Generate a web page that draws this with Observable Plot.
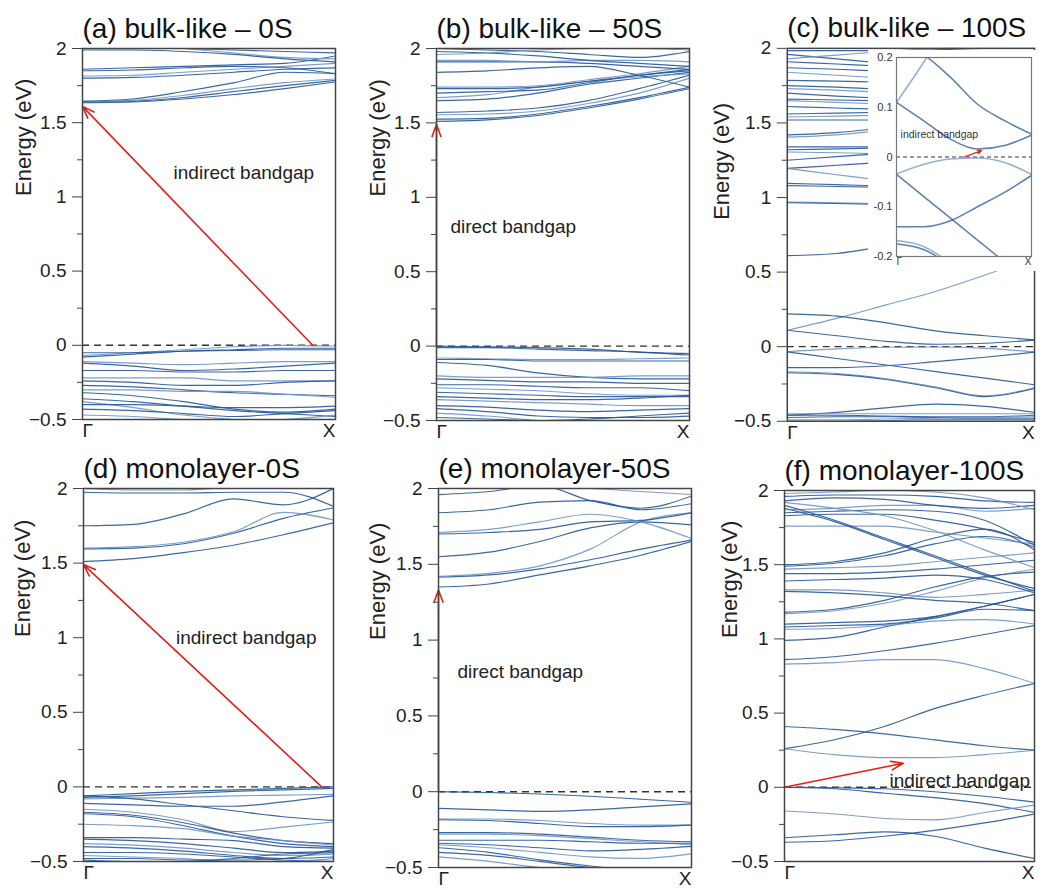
<!DOCTYPE html>
<html>
<head>
<meta charset="utf-8">
<script src="https://cdn.jsdelivr.net/npm/d3@7"></script>
<script src="https://cdn.jsdelivr.net/npm/@observablehq/plot@0.6"></script>
<style>
  html, body { margin: 0; padding: 0; background: #fff; }
  #root { position: relative; width: 1044px; height: 890px; overflow: hidden; background: #fff; }
  .panel { position: absolute; }
  .panel svg { overflow: visible; }
</style>
</head>
<body>
<div id="root"></div>
<script>
// ---------- data ----------
const kPoints = [0, 0.2, 0.4, 0.6, 0.8, 1];
const kLabels = ["Γ", "X"];
const energyTicks = [-0.5, 0, 0.5, 1, 1.5, 2];
const energyMinorTicks = [-0.25, 0.25, 0.75, 1.25, 1.75];
const insetTicks = [-0.2, -0.1, 0, 0.1, 0.2];
const yLabel = "Energy (eV)";

const titles = ["(a) bulk-like – 0S", "(b) bulk-like – 50S", "(c) bulk-like – 100S",
                "(d) monolayer-0S", "(e) monolayer-50S", "(f) monolayer-100S"];

const bandsA = [
  [1.635, 1.64, 1.66, 1.69, 1.73, 1.775],
  [1.64, 1.645, 1.67, 1.71, 1.75, 1.785],
  [1.64, 1.65, 1.685, 1.73, 1.77, 1.795],
  [1.645, 1.66, 1.71, 1.77, 1.84, 1.83],
  [1.80, 1.805, 1.82, 1.84, 1.86, 1.87],
  [1.815, 1.82, 1.84, 1.86, 1.88, 1.90],
  [1.85, 1.855, 1.87, 1.88, 1.87, 1.83],
  [1.86, 1.87, 1.88, 1.89, 1.90, 1.95],
  [2.05, 2.03, 2.0, 1.97, 1.94, 1.93],
  [1.99, 1.99, 1.98, 1.96, 1.93, 1.91],
  [2.02, 2.01, 2.0, 1.99, 1.98, 1.97],
  [-0.07, -0.05, -0.03, -0.01, 0.0, -0.005],
  [-0.08, -0.06, -0.04, -0.03, -0.02, -0.02],
  [-0.05, -0.05, -0.04, -0.035, -0.03, -0.03],
  [-0.11, -0.12, -0.13, -0.12, -0.11, -0.11],
  [-0.12, -0.14, -0.17, -0.16, -0.14, -0.12],
  [-0.17, -0.17, -0.18, -0.18, -0.17, -0.17],
  [-0.22, -0.22, -0.22, -0.24, -0.24, -0.24],
  [-0.24, -0.25, -0.27, -0.27, -0.25, -0.24],
  [-0.27, -0.28, -0.30, -0.32, -0.33, -0.34],
  [-0.30, -0.30, -0.31, -0.31, -0.33, -0.35],
  [-0.32, -0.34, -0.38, -0.43, -0.45, -0.43],
  [-0.36, -0.38, -0.41, -0.44, -0.46, -0.48],
  [-0.38, -0.42, -0.47, -0.50, -0.52, -0.52],
  [-0.40, -0.40, -0.41, -0.42, -0.42, -0.41],
  [-0.43, -0.44, -0.46, -0.48, -0.46, -0.44],
  [-0.47, -0.48, -0.50, -0.51, -0.50, -0.47]
];

const bandsB = [
  [1.51, 1.52, 1.55, 1.60, 1.66, 1.73],
  [1.525, 1.53, 1.56, 1.61, 1.67, 1.74],
  [1.555, 1.56, 1.58, 1.63, 1.70, 1.80],
  [1.57, 1.58, 1.60, 1.65, 1.73, 1.82],
  [1.65, 1.66, 1.70, 1.76, 1.80, 1.84],
  [1.67, 1.69, 1.74, 1.78, 1.81, 1.83],
  [1.70, 1.71, 1.72, 1.77, 1.82, 1.85],
  [1.73, 1.73, 1.74, 1.78, 1.82, 1.86],
  [1.74, 1.74, 1.75, 1.79, 1.83, 1.88],
  [1.84, 1.85, 1.87, 1.88, 1.82, 1.74],
  [1.91, 1.91, 1.91, 1.90, 1.88, 1.86],
  [1.92, 1.92, 1.91, 1.92, 1.92, 1.91],
  [1.98, 1.97, 1.95, 1.92, 1.90, 1.88],
  [2.0, 1.99, 1.98, 1.96, 1.94, 1.98],
  [1.96, 1.97, 1.99, 2.0, 2.0, 1.99],
  [0, -0.005, -0.01, -0.02, -0.04, -0.05],
  [-0.01, -0.01, -0.02, -0.03, -0.04, -0.06],
  [-0.08, -0.085, -0.09, -0.09, -0.085, -0.08],
  [-0.09, -0.09, -0.10, -0.10, -0.10, -0.10],
  [-0.11, -0.13, -0.18, -0.21, -0.22, -0.22],
  [-0.20, -0.21, -0.21, -0.21, -0.20, -0.20],
  [-0.22, -0.23, -0.24, -0.24, -0.25, -0.25],
  [-0.26, -0.26, -0.27, -0.28, -0.28, -0.30],
  [-0.28, -0.29, -0.30, -0.32, -0.33, -0.33],
  [-0.31, -0.32, -0.33, -0.34, -0.34, -0.34],
  [-0.34, -0.35, -0.36, -0.36, -0.35, -0.33],
  [-0.36, -0.37, -0.38, -0.39, -0.40, -0.40],
  [-0.40, -0.41, -0.43, -0.44, -0.43, -0.42],
  [-0.42, -0.44, -0.47, -0.48, -0.48, -0.47],
  [-0.45, -0.47, -0.50, -0.52, -0.52, -0.50],
  [-0.48, -0.49, -0.50, -0.49, -0.47, -0.45]
];

const bandsC = [
  [1.985, 1.985, 1.985, 1.99, 2.0, 2.0],
  [1.96, 1.93, 1.90, 1.88, 1.86, 1.85],
  [1.93, 1.955, 1.98, 2.0, 2.02, 2.03],
  [1.91, 1.895, 1.88, 1.87, 1.86, 1.86],
  [1.87, 1.86, 1.845, 1.83, 1.82, 1.82],
  [1.84, 1.82, 1.80, 1.78, 1.77, 1.77],
  [1.785, 1.78, 1.773, 1.77, 1.77, 1.77],
  [1.75, 1.74, 1.726, 1.72, 1.71, 1.71],
  [1.73, 1.72, 1.706, 1.70, 1.69, 1.69],
  [1.70, 1.68, 1.664, 1.65, 1.64, 1.64],
  [1.66, 1.654, 1.648, 1.64, 1.64, 1.64],
  [1.65, 1.638, 1.626, 1.62, 1.61, 1.61],
  [1.61, 1.60, 1.592, 1.59, 1.58, 1.58],
  [1.56, 1.566, 1.572, 1.58, 1.59, 1.59],
  [1.54, 1.546, 1.552, 1.56, 1.56, 1.56],
  [1.52, 1.52, 1.52, 1.52, 1.52, 1.52],
  [1.42, 1.435, 1.468, 1.50, 1.53, 1.55],
  [1.405, 1.42, 1.453, 1.48, 1.50, 1.52],
  [1.34, 1.34, 1.34, 1.34, 1.34, 1.34],
  [1.32, 1.326, 1.332, 1.34, 1.34, 1.34],
  [1.305, 1.30, 1.293, 1.29, 1.28, 1.28],
  [1.25, 1.274, 1.298, 1.32, 1.34, 1.35],
  [1.195, 1.216, 1.237, 1.26, 1.28, 1.29],
  [1.195, 1.153, 1.111, 1.07, 1.03, 1.0],
  [1.095, 1.086, 1.077, 1.07, 1.06, 1.06],
  [1.08, 1.074, 1.068, 1.06, 1.06, 1.06],
  [0.97, 0.964, 0.958, 0.95, 0.95, 0.95],
  [0.965, 0.96, 0.953, 0.95, 0.94, 0.94],
  [0.61, 0.625, 0.675, 0.73, 0.78, 0.82],
  [0.11, 0.19, 0.28, 0.37, 0.48, 0.60],
  [0.22, 0.205, 0.16, 0.106, 0.073, 0.046],
  [0.11, 0.073, 0.036, 0.016, 0.023, 0.044],
  [-0.034, -0.015, -0.004, -0.002, -0.011, -0.035],
  [-0.035, -0.079, -0.123, -0.167, -0.211, -0.255],
  [-0.14, -0.14, -0.128, -0.10, -0.071, -0.037],
  [-0.168, -0.18, -0.215, -0.27, -0.33, -0.275],
  [-0.175, -0.186, -0.22, -0.275, -0.335, -0.28],
  [-0.46, -0.44, -0.41, -0.385, -0.40, -0.44],
  [-0.45, -0.45, -0.45, -0.45, -0.45, -0.45],
  [-0.46, -0.46, -0.465, -0.47, -0.47, -0.46],
  [-0.475, -0.47, -0.47, -0.475, -0.48, -0.48],
  [-0.49, -0.49, -0.485, -0.48, -0.475, -0.47],
  [-0.50, -0.50, -0.495, -0.49, -0.49, -0.49]
];

const bandsD = [
  [1.51, 1.53, 1.57, 1.62, 1.69, 1.77],
  [1.595, 1.60, 1.63, 1.70, 1.80, 1.87],
  [1.60, 1.61, 1.64, 1.71, 1.84, 1.79],
  [1.75, 1.76, 1.83, 1.93, 1.89, 2.0],
  [1.975, 1.97, 1.97, 1.975, 1.975, 1.88],
  [2.0, 1.99, 1.99, 2.01, 2.02, 2.05],
  [-0.06, -0.045, -0.03, -0.02, -0.01, 0.0],
  [-0.07, -0.06, -0.045, -0.03, -0.02, -0.01],
  [-0.08, -0.075, -0.07, -0.06, -0.055, -0.05],
  [-0.06, -0.08, -0.12, -0.16, -0.20, -0.225],
  [-0.11, -0.12, -0.13, -0.13, -0.10, -0.06],
  [-0.15, -0.17, -0.22, -0.30, -0.27, -0.235],
  [-0.17, -0.19, -0.24, -0.31, -0.36, -0.38],
  [-0.18, -0.20, -0.26, -0.33, -0.38, -0.40],
  [-0.25, -0.26, -0.28, -0.33, -0.36, -0.39],
  [-0.34, -0.34, -0.35, -0.36, -0.40, -0.41],
  [-0.35, -0.36, -0.38, -0.41, -0.44, -0.43],
  [-0.38, -0.39, -0.41, -0.44, -0.46, -0.45],
  [-0.40, -0.41, -0.43, -0.46, -0.48, -0.47],
  [-0.44, -0.44, -0.45, -0.47, -0.49, -0.50],
  [-0.46, -0.47, -0.48, -0.50, -0.50, -0.48],
  [-0.48, -0.48, -0.49, -0.49, -0.48, -0.42],
  [-0.49, -0.50, -0.50, -0.48, -0.45, -0.44]
];

const bandsE = [
  [1.35, 1.37, 1.43, 1.49, 1.56, 1.65],
  [1.415, 1.43, 1.47, 1.53, 1.60, 1.66],
  [1.42, 1.44, 1.49, 1.60, 1.78, 1.84],
  [1.55, 1.58, 1.65, 1.74, 1.78, 1.76],
  [1.70, 1.71, 1.73, 1.78, 1.79, 1.84],
  [1.71, 1.73, 1.78, 1.83, 1.78, 1.67],
  [1.84, 1.86, 1.91, 1.92, 1.86, 1.90],
  [1.96, 1.98, 2.02, 1.92, 1.87, 1.95],
  [2.05, 2.03, 2.01, 2.0, 1.98, 1.96],
  [0, -0.005, -0.015, -0.03, -0.05, -0.07],
  [-0.11, -0.12, -0.13, -0.12, -0.10, -0.08],
  [-0.18, -0.18, -0.19, -0.21, -0.22, -0.22],
  [-0.185, -0.19, -0.21, -0.23, -0.23, -0.22],
  [-0.27, -0.27, -0.28, -0.30, -0.32, -0.33],
  [-0.28, -0.28, -0.29, -0.31, -0.33, -0.35],
  [-0.32, -0.32, -0.32, -0.33, -0.34, -0.34],
  [-0.34, -0.35, -0.37, -0.39, -0.38, -0.36],
  [-0.35, -0.37, -0.40, -0.43, -0.44, -0.41],
  [-0.37, -0.40, -0.45, -0.49, -0.52, -0.52],
  [-0.40, -0.42, -0.46, -0.50, -0.52, -0.53],
  [-0.43, -0.46, -0.50, -0.52, -0.52, -0.50]
];

const bandsF = [
  [0, -0.003, -0.01, -0.03, -0.06, -0.10],
  [0, -0.01, -0.04, -0.07, -0.11, -0.17],
  [-0.16, -0.18, -0.21, -0.22, -0.17, -0.12],
  [-0.34, -0.32, -0.30, -0.33, -0.41, -0.48],
  [-0.37, -0.36, -0.33, -0.29, -0.24, -0.18],
  [0.26, 0.22, 0.20, 0.20, 0.22, 0.25],
  [0.26, 0.32, 0.41, 0.53, 0.62, 0.70],
  [0.41, 0.39, 0.36, 0.32, 0.28, 0.25],
  [0.83, 0.84, 0.86, 0.86, 0.80, 0.70],
  [0.86, 0.88, 0.92, 0.97, 1.03, 1.09],
  [0.99, 1.01, 1.08, 1.15, 1.22, 1.30],
  [1.065, 1.07, 1.09, 1.12, 1.13, 1.10],
  [1.08, 1.09, 1.10, 1.14, 1.20, 1.19],
  [1.10, 1.11, 1.12, 1.15, 1.22, 1.30],
  [1.17, 1.19, 1.24, 1.32, 1.41, 1.47],
  [1.18, 1.20, 1.26, 1.35, 1.42, 1.45],
  [1.32, 1.31, 1.29, 1.26, 1.24, 1.19],
  [1.33, 1.33, 1.31, 1.28, 1.30, 1.33],
  [1.39, 1.40, 1.41, 1.43, 1.40, 1.31],
  [1.44, 1.44, 1.45, 1.47, 1.50, 1.53],
  [1.47, 1.48, 1.49, 1.52, 1.55, 1.58],
  [1.49, 1.51, 1.56, 1.64, 1.69, 1.62],
  [1.50, 1.52, 1.58, 1.68, 1.74, 1.60],
  [1.76, 1.76, 1.76, 1.72, 1.68, 1.64],
  [1.83, 1.84, 1.84, 1.80, 1.74, 1.65],
  [1.85, 1.86, 1.87, 1.86, 1.80, 1.63],
  [1.87, 1.88, 1.90, 1.90, 1.86, 1.88],
  [1.88, 1.79, 1.67, 1.55, 1.43, 1.34],
  [1.90, 1.80, 1.68, 1.56, 1.44, 1.32],
  [1.92, 1.88, 1.83, 1.73, 1.60, 1.48],
  [1.93, 1.95, 1.94, 1.90, 1.88, 1.90],
  [1.96, 1.97, 1.97, 1.96, 1.93, 1.92],
  [1.98, 1.99, 2.00, 1.99, 1.95, 1.87]
];

// bandgap arrows [k1, e1, k2, e2] and notes [k, e, text]
const arrowA = [0.91, 0, 0, 1.61];
const arrowB = [0, 0, 0, 1.49];
const arrowD = [0.953, 0, 0, 1.49];
const arrowE = [0, 0, 0, 1.33];
const arrowF = [0, 0, 0.475, 0.162];
const arrowInset = [0.5, 0, 0.63, 0.013];
const noteA = [0.36, 1.16, "indirect bandgap"];
const noteB = [0.055, 0.80, "direct bandgap"];
const noteD = [0.37, 1.00, "indirect bandgap"];
const noteE = [0.075, 0.79, "direct bandgap"];
const noteF = [0.42, 0.045, "indirect bandgap"];
const noteInset = [0.03, 0.044, "indirect bandgap"];

// ---------- drawing ----------
const FONT = '"Liberation Sans", Arial, Helvetica, sans-serif';
const BAND_DARK = "#255797";
const BAND_LIGHT = "#6d94c7";
const RED = "#e0201b";
const root = document.getElementById("root");

function rows(bands) {
  return bands.flatMap((b, i) => b.map((e, j) => ({band: i, k: kPoints[j], e, c: i % 3 === 2 ? BAND_LIGHT : BAND_DARK})));
}
const fmt = d => d < 0 ? "−" + Math.abs(d) : String(d);
const arrowDatum = a => ({k1: a[0], e1: a[1], k2: a[2], e2: a[3]});
const noteDatum = n => ({k: n[0], e: n[1], text: n[2]});

function place(node, left, top) {
  const div = document.createElement("div");
  div.className = "panel";
  div.style.left = left + "px";
  div.style.top = top + "px";
  div.appendChild(node);
  root.appendChild(div);
}

function mainPanel({frame: [L, T, R, B], bands, title, arrow, note, labelDx = -59, labelDy = -38}) {
  const ML = 80, MT = 45, MR = 10, MB = 28;
  const marks = [
    Plot.ruleY([0], {stroke: "#333", strokeWidth: 1.4, strokeDasharray: "7,5"}),
    Plot.line(rows(bands), {x: "k", y: "e", z: "band", stroke: "c", strokeWidth: 1.15, strokeOpacity: 0.9, curve: "monotone-x", clip: true})
  ];
  if (arrow) marks.push(Plot.arrow([arrowDatum(arrow)], {x1: "k1", y1: "e1", x2: "k2", y2: "e2", stroke: RED, strokeWidth: 1.6, headLength: 12, headAngle: 40}));
  if (note) marks.push(Plot.text([noteDatum(note)], {x: "k", y: "e", text: "text", textAnchor: "start", fontSize: 19, fill: "#222"}));
  marks.push(
    Plot.frame({stroke: "#444", strokeWidth: 1.5}),
    Plot.axisY(energyTicks, {tickSize: 10, tickPadding: 6, tickFormat: fmt, label: null, fontSize: 19, stroke: "#444"}),
    Plot.axisY(energyMinorTicks, {tickSize: 5, tickFormat: () => "", label: null, stroke: "#444"}),
    Plot.text([yLabel], {text: d => d, frameAnchor: "left", rotate: -90, dx: labelDx, dy: labelDy, fontSize: 22, fill: "#222"}),
    Plot.axisX([0], {tickSize: 0, tickPadding: 4, tickFormat: () => kLabels[0], textAnchor: "start", label: null, fontSize: 19}),
    Plot.axisX([1], {tickSize: 0, tickPadding: 4, tickFormat: () => kLabels[1], textAnchor: "end", label: null, fontSize: 19}),
    Plot.text([title], {text: d => d, frameAnchor: "top-left", textAnchor: "start", lineAnchor: "bottom", dy: -11, fontSize: 28, fill: "#111"})
  );
  const svg = Plot.plot({
    width: ML + (R - L) + MR,
    height: MT + (B - T) + MB,
    marginLeft: ML, marginTop: MT, marginRight: MR, marginBottom: MB,
    style: {fontFamily: FONT, fontSize: "19px", color: "#222", background: "transparent"},
    x: {domain: [0, 1]},
    y: {domain: [-0.5, 2]},
    color: {type: "identity"},
    marks
  });
  place(svg, L - ML, T - MT);
}

mainPanel({frame: [82, 48, 335, 419], bands: bandsA, title: titles[0], arrow: arrowA, note: noteA});
mainPanel({frame: [436, 48, 689, 420], bands: bandsB, title: titles[1], arrow: arrowB, note: noteB});
mainPanel({frame: [787, 48, 1035, 422], bands: bandsC, title: titles[2], labelDx: -65, labelDy: -15});
mainPanel({frame: [83, 488, 333, 861], bands: bandsD, title: titles[3], arrow: arrowD, note: noteD, labelDx: -61});
mainPanel({frame: [438, 488, 691, 867], bands: bandsE, title: titles[4], arrow: arrowE, note: noteE, labelDx: -61});
mainPanel({frame: [784, 490, 1034, 861], bands: bandsF, title: titles[5], arrow: arrowF, note: noteF, labelDx: -55});

// inset of panel (c): the same bands, zoomed to ±0.2 eV, on a white box
(function () {
  const iL = 896, iT = 57, iR = 1031, iB = 256;
  const boxL = 868, boxT = 50, boxR = 1037, boxB = 271;
  const inset = Plot.plot({
    width: boxR - boxL, height: boxB - boxT,
    marginLeft: iL - boxL, marginTop: iT - boxT, marginRight: boxR - iR, marginBottom: boxB - iB,
    style: {fontFamily: FONT, fontSize: "11px", color: "#333", background: "#fff"},
    x: {domain: [0, 1]},
    y: {domain: [-0.2, 0.2]},
    color: {type: "identity"},
    marks: [
      Plot.ruleY([0], {stroke: "#333", strokeWidth: 1, strokeDasharray: "4,3"}),
      Plot.line(rows(bandsC), {x: "k", y: "e", z: "band", stroke: "c", strokeWidth: 1.5, strokeOpacity: 0.75, curve: "monotone-x", clip: true}),
      Plot.arrow([arrowDatum(arrowInset)], {x1: "k1", y1: "e1", x2: "k2", y2: "e2", stroke: RED, strokeWidth: 1.3, headLength: 5, headAngle: 50}),
      Plot.text([noteDatum(noteInset)], {x: "k", y: "e", text: "text", textAnchor: "start", fontSize: 10.5, fill: "#333"}),
      Plot.frame({stroke: "#777", strokeWidth: 1.2}),
      Plot.axisY(insetTicks, {tickSize: 0, tickPadding: 4, tickFormat: d => String(d), label: null, fontSize: 11}),
      Plot.axisX([0], {tickSize: 0, tickPadding: 1, tickFormat: () => kLabels[0], textAnchor: "start", label: null, fontSize: 10}),
      Plot.axisX([1], {tickSize: 0, tickPadding: 1, tickFormat: () => kLabels[1], textAnchor: "end", label: null, fontSize: 10})
    ]
  });
  place(inset, boxL, boxT);
})();
</script>
</body>
</html>
